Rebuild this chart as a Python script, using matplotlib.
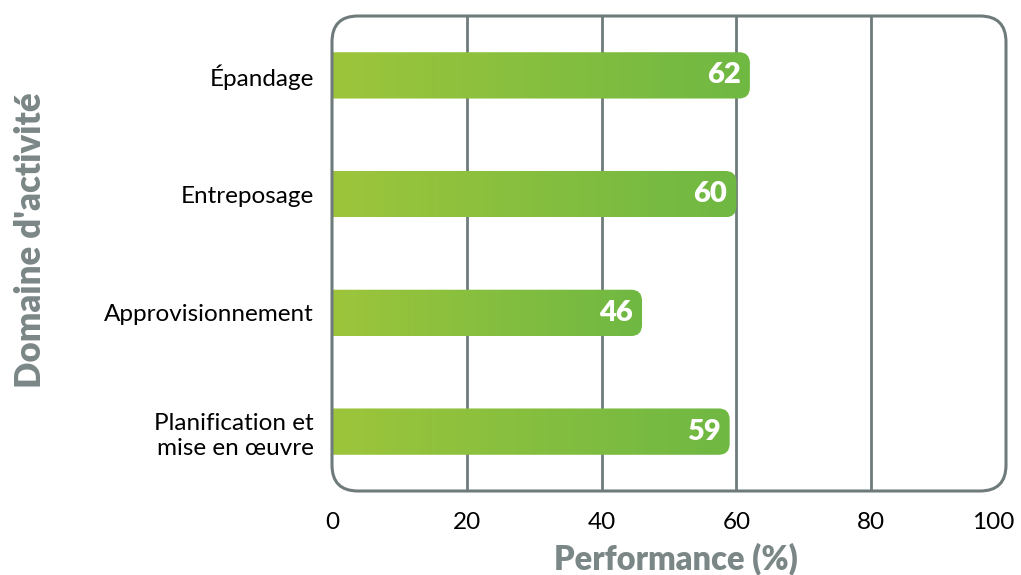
import matplotlib.pyplot as plt
import numpy as np
from matplotlib.patches import FancyBboxPatch
from matplotlib.colors import LinearSegmentedColormap
from matplotlib.transforms import ScaledTranslation

# data
categories = ['Épandage', 'Entreposage', 'Approvisionnement', 'Planification et\nmise en œuvre']
values = [62, 60, 46, 59]
xticks = [0, 20, 40, 60, 80, 100]

plt.rcParams['font.family'] = ['Lato', 'DejaVu Sans']

gray = '#6f7b7b'
label_gray = '#7b8686'
green_cmap = LinearSegmentedColormap.from_list('grn', ['#9dc53b', '#6fb843'])

fig = plt.figure(figsize=(10.21, 5.75), dpi=100)
# axes frame: x 332..1006, y 16..491 (pixels)
ax = fig.add_axes([332 / 1021, (575 - 491) / 575, 674 / 1021, 475 / 575])

ax.set_xlim(0, 100)
ax.set_ylim(3.5, -0.5)

ax_w, ax_h = 674, 475
px_x = 100 / ax_w   # data units per pixel in x
px_y = 4 / ax_h     # data units per pixel in y

# grid lines behind bars
for g in xticks[1:-1]:
    ax.axvline(g, color=gray, lw=2, zorder=1)

bar_h = 0.39
r = 11  # corner radius in px
for i, v in enumerate(values):
    patch = FancyBboxPatch((-10, i - bar_h / 2), v + 10, bar_h,
                           boxstyle='round,pad=0,rounding_size=%f' % (r * px_x),
                           mutation_aspect=px_y / px_x,
                           facecolor='none', edgecolor='none', zorder=2)
    ax.add_patch(patch)
    grad = np.linspace(0, 1, 256).reshape(1, -1)
    im = ax.imshow(grad, cmap=green_cmap, aspect='auto',
                   extent=[0, v, i + bar_h / 2, i - bar_h / 2], zorder=2)
    im.set_clip_path(patch)
    ax.text(v - 9 * px_x, i, str(v), color='white', fontsize=21,
            fontweight='heavy', ha='right', va='center', zorder=4)

ax.set_xlim(0, 100)
ax.set_ylim(3.5, -0.5)

# rounded frame
for s in ax.spines.values():
    s.set_visible(False)
frame = FancyBboxPatch((0, 0), 1, 1, transform=ax.transAxes,
                       boxstyle='round,pad=0,rounding_size=%f' % (26 / ax_w),
                       mutation_aspect=ax_w / ax_h,
                       facecolor='none', edgecolor=gray, lw=2.2, zorder=5,
                       clip_on=False)
ax.add_patch(frame)

ax.set_xticks(xticks)
ax.set_xticklabels([str(t) for t in xticks], fontsize=17.5)
ax.set_yticks(range(len(categories)))
ax.set_yticklabels(categories, fontsize=17.5, linespacing=1.25)
ax.tick_params(axis='both', length=0)
ax.tick_params(axis='x', pad=15)
ax.tick_params(axis='y', pad=13)

# keep "100" inside the picture
last = ax.get_xticklabels()[-1]
last.set_transform(last.get_transform() + ScaledTranslation(-9 / 72, 0, fig.dpi_scale_trans))

ax.set_xlabel('Performance (%)', fontsize=23.5, fontweight='heavy', color=label_gray)
ax.xaxis.set_label_coords(0.51, -52 / ax_h)
ax.set_ylabel("Domaine d'activité", fontsize=25, fontweight='heavy', color=label_gray)
ax.yaxis.set_label_coords(-285 / ax_w, 0.527)

fig.savefig('out.png', dpi=100)
